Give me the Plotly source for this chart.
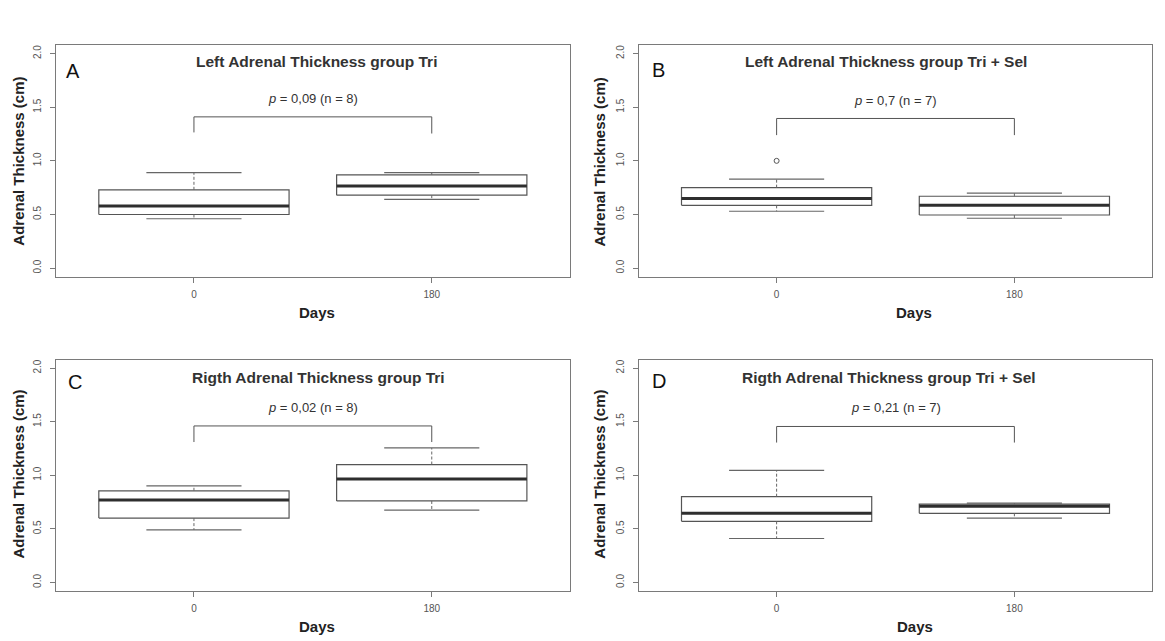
import plotly.graph_objects as go

# ---------------- data ----------------
days = ["0", "180"]
panel_letters = ["A", "B", "C", "D"]
titles = [
    "Left Adrenal Thickness group Tri",
    "Left Adrenal Thickness group Tri + Sel",
    "Rigth Adrenal Thickness group Tri",
    "Rigth Adrenal Thickness group Tri + Sel",
]
p_values = ["0,09", "0,7", "0,02", "0,21"]
n_values = [8, 7, 8, 7]

# five-number summaries per panel: [day 0, day 180]
lower = [[0.46, 0.64], [0.53, 0.465], [0.49, 0.675], [0.41, 0.60]]
q1 = [[0.50, 0.68], [0.585, 0.495], [0.60, 0.76], [0.57, 0.645]]
median = [[0.58, 0.765], [0.65, 0.585], [0.77, 0.965], [0.645, 0.71]]
q3 = [[0.73, 0.87], [0.75, 0.67], [0.855, 1.10], [0.80, 0.73]]
upper = [[0.89, 0.89], [0.83, 0.70], [0.90, 1.255], [1.045, 0.74]]
outliers = [[[], []], [[1.0], []], [[], []], [[], []]]

# significance bracket (top, left leg end, right leg end) and p-label height
bracket_top = [1.41, 1.395, 1.46, 1.455]
bracket_left = [1.265, 1.24, 1.31, 1.305]
bracket_right = [1.255, 1.24, 1.31, 1.305]
p_label_y = [1.58, 1.56, 1.635, 1.635]

y_ticks = [0.0, 0.5, 1.0, 1.5, 2.0]
y_tick_text = ["0.0", "0.5", "1.0", "1.5", "2.0"]

# ---------------- layout geometry ----------------
W, H = 1165, 641
FONT = "Liberation Sans, Arial, sans-serif"
BOX_HALF = 0.4
CAP_HALF = 0.2

x_domains = [[56 / W, 569.7 / W], [638.7 / W, 1152.3 / W]] * 2
y_domains = [[1 - 276.7 / H, 1 - 45 / H]] * 2 + [[1 - 591 / H, 1 - 359.5 / H]] * 2

# annotation pixel positions
title_pos = [(316.5, 61), (886.4, 61), (318.5, 377.3), (888.6, 377.7)]
letter_pos = [(73, 70.7), (658, 70.3), (75, 381.7), (659, 381)]
ytitle_pos = [(18.7, 161), (599.5, 162), (17.6, 474), (598.7, 474)]
xtitle_pos = [(316.6, 312.7), (914.3, 312.7), (316.6, 626.5), (915, 626)]

BOX_COL = "#555555"
MED_COL = "#2e2e2e"
WHISK_COL = "#666666"
FRAME_COL = "#7a7a7a"
TEXT_COL = "#333333"

fig = go.Figure()
layout = dict(
    width=W, height=H, autosize=False,
    margin=dict(l=0, r=0, t=0, b=0),
    paper_bgcolor="white", plot_bgcolor="white",
    showlegend=False,
    font=dict(family=FONT, color=TEXT_COL),
)
annotations = []
positions = [1, 2]

for k in range(4):
    sfx = "" if k == 0 else str(k + 1)
    xa, ya = "x" + sfx, "y" + sfx

    for j, pos in enumerate(positions):
        # box
        fig.add_trace(go.Scatter(
            x=[pos - BOX_HALF, pos + BOX_HALF, pos + BOX_HALF, pos - BOX_HALF, pos - BOX_HALF],
            y=[q1[k][j], q1[k][j], q3[k][j], q3[k][j], q1[k][j]],
            mode="lines", line=dict(color=BOX_COL, width=1.2),
            xaxis=xa, yaxis=ya, hoverinfo="skip"))
        # whiskers (dashed)
        fig.add_trace(go.Scatter(
            x=[pos, pos, None, pos, pos],
            y=[q3[k][j], upper[k][j], None, q1[k][j], lower[k][j]],
            mode="lines", line=dict(color=WHISK_COL, width=1, dash="3px,2px"),
            xaxis=xa, yaxis=ya, hoverinfo="skip"))
        # caps
        fig.add_trace(go.Scatter(
            x=[pos - CAP_HALF, pos + CAP_HALF, None, pos - CAP_HALF, pos + CAP_HALF],
            y=[upper[k][j], upper[k][j], None, lower[k][j], lower[k][j]],
            mode="lines", line=dict(color=WHISK_COL, width=1.2),
            xaxis=xa, yaxis=ya, hoverinfo="skip"))
        # median (thick)
        fig.add_trace(go.Scatter(
            x=[pos - BOX_HALF, pos + BOX_HALF],
            y=[median[k][j], median[k][j]],
            mode="lines", line=dict(color=MED_COL, width=3),
            xaxis=xa, yaxis=ya, hoverinfo="skip"))
        # outliers
        if outliers[k][j]:
            fig.add_trace(go.Scatter(
                x=[pos] * len(outliers[k][j]), y=outliers[k][j],
                mode="markers",
                marker=dict(symbol="circle-open", size=5, color=BOX_COL, line=dict(width=1)),
                xaxis=xa, yaxis=ya, hoverinfo="skip"))

    # significance bracket
    fig.add_trace(go.Scatter(
        x=[positions[0], positions[0], positions[1], positions[1]],
        y=[bracket_left[k], bracket_top[k], bracket_top[k], bracket_right[k]],
        mode="lines", line=dict(color=BOX_COL, width=1),
        xaxis=xa, yaxis=ya, hoverinfo="skip"))

    # p-label
    annotations.append(dict(
        x=(positions[0] + positions[1]) / 2, y=p_label_y[k], xref=xa, yref=ya,
        text=f"<i>p</i> = {p_values[k]} (n = {n_values[k]})",
        showarrow=False, font=dict(size=13, color=TEXT_COL, family=FONT),
        xanchor="center", yanchor="middle"))

    layout["xaxis" + sfx] = dict(
        domain=x_domains[k], anchor=ya, range=[0.42, 2.58],
        tickmode="array", tickvals=positions, ticktext=days,
        ticks="outside", ticklen=5, tickcolor=FRAME_COL, tickwidth=1,
        showline=True, mirror=True, linecolor=FRAME_COL, linewidth=1.3,
        showgrid=False, zeroline=False, fixedrange=True,
        tickfont=dict(size=10, color="#555555", family=FONT),
        ticklabelstandoff=3)
    layout["yaxis" + sfx] = dict(
        domain=y_domains[k], anchor=xa, range=[-0.08, 2.08],
        tickmode="array", tickvals=y_ticks, ticktext=y_tick_text,
        ticks="outside", ticklen=5, tickcolor=FRAME_COL, tickwidth=1,
        showline=True, mirror=True, linecolor=FRAME_COL, linewidth=1.3,
        showgrid=False, zeroline=False, fixedrange=True, tickangle=-90,
        tickfont=dict(size=10, color="#555555", family=FONT),
        ticklabelstandoff=5)

    tx, ty = title_pos[k]
    annotations.append(dict(
        x=tx / W, y=1 - ty / H, xref="paper", yref="paper", text=f"<b>{titles[k]}</b>",
        showarrow=False, font=dict(size=15.5, color=TEXT_COL, family=FONT),
        xanchor="center", yanchor="middle"))
    lx, ly = letter_pos[k]
    annotations.append(dict(
        x=lx / W, y=1 - ly / H, xref="paper", yref="paper", text=panel_letters[k],
        showarrow=False, font=dict(size=20, color="#111111", family=FONT),
        xanchor="center", yanchor="middle"))
    yx, yy = ytitle_pos[k]
    annotations.append(dict(
        x=yx / W, y=1 - yy / H, xref="paper", yref="paper",
        text="<b>Adrenal Thickness (cm)</b>", textangle=-90,
        showarrow=False, font=dict(size=15, color="#222222", family=FONT),
        xanchor="center", yanchor="middle"))
    dx, dy = xtitle_pos[k]
    annotations.append(dict(
        x=dx / W, y=1 - dy / H, xref="paper", yref="paper", text="<b>Days</b>",
        showarrow=False, font=dict(size=15, color="#222222", family=FONT),
        xanchor="center", yanchor="middle"))

layout["annotations"] = annotations
fig.update_layout(**layout)
fig.write_html("out.html")
